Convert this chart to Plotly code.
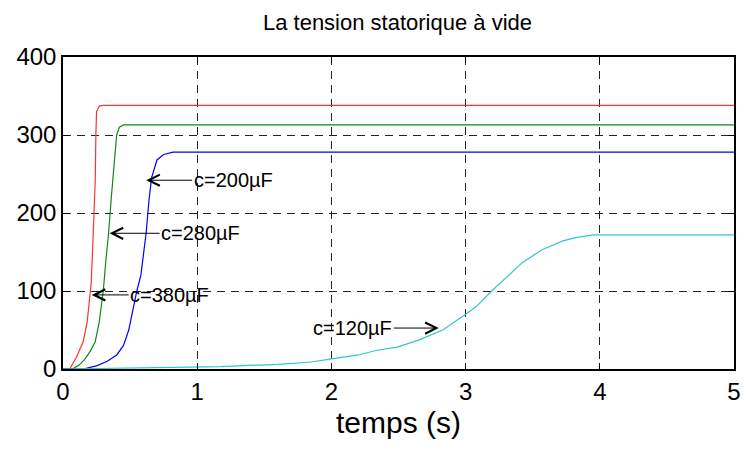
import plotly.graph_objects as go

# c = 380 µF (red)
t_380 = [0, 0.05, 0.10, 0.15, 0.18, 0.20, 0.21, 0.22, 0.23, 0.24, 0.245, 0.25, 0.27, 0.30, 5.0]
v_380 = [0, 0, 15, 35, 60, 90, 110, 150, 200, 240, 300, 330, 337, 338, 338]
# c = 280 µF (green)
t_280 = [0, 0.07, 0.12, 0.16, 0.20, 0.24, 0.27, 0.30, 0.32, 0.34, 0.36, 0.38, 0.40, 0.42, 0.45, 5.0]
v_280 = [0, 0, 5, 12, 22, 35, 60, 100, 140, 175, 220, 260, 300, 310, 313, 313]
# c = 200 µF (blue)
t_200 = [0, 0.15, 0.25, 0.33, 0.40, 0.45, 0.49, 0.52, 0.55, 0.58, 0.60, 0.62, 0.64, 0.66, 0.70, 0.75, 0.82, 5.0]
v_200 = [0, 0, 4, 10, 18, 30, 50, 75, 100, 120, 150, 175, 215, 245, 268, 275, 278, 278]
# c = 120 µF (cyan)
t_120 = [0, 0.5, 1.18, 1.6, 1.85, 2.0, 2.2, 2.34, 2.49, 2.65, 2.83, 2.99, 3.08, 3.20, 3.32, 3.42, 3.57, 3.72, 3.81, 3.95, 5.0]
v_120 = [0, 1, 3, 6, 9, 13, 18, 24, 28, 37, 50, 69, 80, 101, 120, 136, 153, 164, 168, 172, 172]

x_ticks = [0, 1, 2, 3, 4, 5]
y_ticks = [0, 100, 200, 300, 400]

labels = ["c=200µF", "c=280µF", "c=380µF", "c=120µF"]
label_t = [0.62, 0.347, 0.214, 2.80]
label_v = [242, 174, 95, 52.5]
label_ax = [87, 91, 78, -86]

FONT = "Arial, Liberation Sans, sans-serif"

fig = go.Figure()
for t, v, c in [(t_380, v_380, "#ff3333"), (t_280, v_280, "#108a10"),
                (t_200, v_200, "#0000ff"), (t_120, v_120, "#2ec8c8")]:
    fig.add_trace(go.Scatter(x=t, y=v, mode="lines", line=dict(color=c, width=1.2),
                             showlegend=False, hoverinfo="skip"))

for txt, tx, vy, ax in zip(labels, label_t, label_v, label_ax):
    fig.add_annotation(x=tx, y=vy, xref="x", yref="y", text=txt, showarrow=True,
                       ax=ax, ay=0, axref="pixel", ayref="pixel",
                       arrowhead=5, arrowsize=2.2, arrowwidth=1, arrowcolor="black",
                       font=dict(family=FONT, size=20, color="black"))

axis_common = dict(showline=True, linecolor="black", linewidth=1.5, mirror="ticks",
                   ticks="inside", ticklen=6, tickcolor="black",
                   showgrid=True, gridcolor="#222222", gridwidth=1, griddash="8px,6px",
                   zeroline=False, tickfont=dict(family=FONT, size=24, color="black"))

fig.update_layout(
    width=750, height=453,
    margin=dict(l=63, r=9, t=57, b=84),
    paper_bgcolor="white", plot_bgcolor="white",
    title=dict(text="La tension statorique à vide", x=0.53, xanchor="center",
               y=1 - 22 / 453, yanchor="middle",
               font=dict(family=FONT, size=22, color="black")),
    xaxis=dict(range=[0, 5], tickvals=x_ticks, **axis_common,
               title=dict(text="temps (s)", standoff=8,
                          font=dict(family=FONT, size=30, color="black"))),
    yaxis=dict(range=[0, 400], tickvals=y_ticks, **axis_common),
)

fig.write_html("out.html")
